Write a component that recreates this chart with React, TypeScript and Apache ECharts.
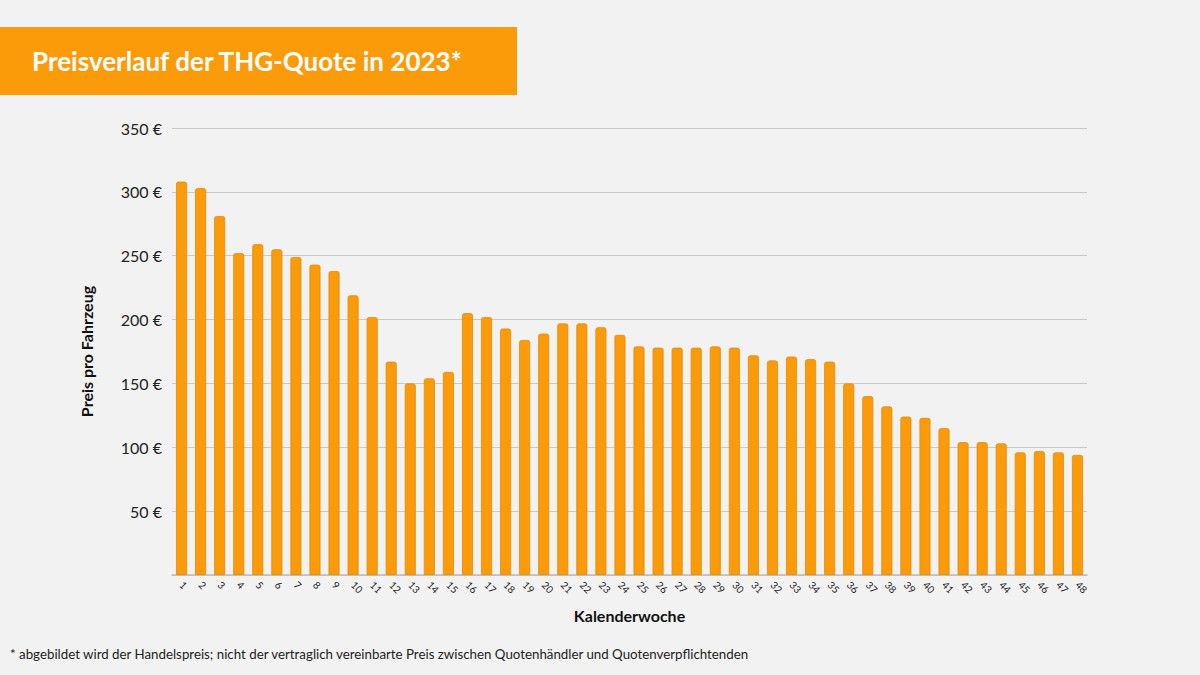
import React, { useEffect, useRef } from "react";
import * as echarts from "echarts";

const weeks: string[] = Array.from({ length: 48 }, (_, i) => String(i + 1));
const prices: number[] = [
  308, 303, 281, 252, 259, 255, 249, 243, 238, 219, 202, 167, 150, 154, 159, 205,
  202, 193, 184, 189, 197, 197, 194, 188, 179, 178, 178, 178, 179, 178, 172, 168,
  171, 169, 167, 150, 140, 132, 124, 123, 115, 104, 104, 103, 96, 97, 96, 94,
];
const titleText = "Preisverlauf der THG-Quote in 2023*";
const yAxisName = "Preis pro Fahrzeug";
const xAxisName = "Kalenderwoche";
const footnote =
  "* abgebildet wird der Handelspreis; nicht der vertraglich vereinbarte Preis zwischen Quotenhändler und Quotenverpflichtenden";

const FONT = "'Lato', 'Open Sans', sans-serif";

export default function App() {
  const ref = useRef<HTMLDivElement>(null);
  useEffect(() => {
    document.body.style.margin = "0";
    if (!ref.current) return;
    const chart = echarts.init(ref.current, undefined, { renderer: "svg" });
    chart.setOption({
      animation: false,
      backgroundColor: "#f3f2f2",
      textStyle: { fontFamily: FONT },
      graphic: [
        {
          type: "rect",
          shape: { x: 0, y: 27, width: 517, height: 68 },
          style: { fill: "#fb9b0a" },
        },
        {
          type: "text",
          x: 32,
          y: 61,
          style: {
            text: titleText,
            fill: "#ffffff",
            font: `bold 26px ${FONT}`,
            verticalAlign: "middle",
          },
        },
        {
          type: "text",
          x: 10,
          y: 654,
          style: {
            text: footnote,
            fill: "#222222",
            font: `13.3px ${FONT}`,
            verticalAlign: "middle",
          },
        },
      ],
      grid: { left: 172, right: 113, top: 128, bottom: 100 },
      xAxis: {
        type: "category",
        data: weeks,
        name: xAxisName,
        nameLocation: "middle",
        nameGap: 32,
        nameTextStyle: { fontSize: 16, fontWeight: "bold", color: "#111", fontFamily: FONT },
        axisLine: { lineStyle: { color: "#bdbdbd", width: 1.5 } },
        axisTick: { show: false },
        axisLabel: {
          rotate: -45,
          fontSize: 10,
          color: "#222",
          margin: 8,
          interval: 0,
          fontFamily: FONT,
        },
      },
      yAxis: {
        type: "value",
        min: 0,
        max: 350,
        interval: 50,
        name: yAxisName,
        nameLocation: "middle",
        nameGap: 78,
        nameRotate: 90,
        nameTextStyle: { fontSize: 16, fontWeight: "bold", color: "#111", fontFamily: FONT },
        axisLine: { show: false },
        axisTick: { show: false },
        axisLabel: {
          fontSize: 16,
          color: "#222",
          margin: 10,
          fontFamily: FONT,
          formatter: (v: number) => (v === 0 ? "" : `${v} €`),
        },
        splitLine: { lineStyle: { color: "#c9c9c9", width: 1 } },
      },
      series: [
        {
          type: "bar",
          data: prices,
          barWidth: 11,
          itemStyle: {
            color: "#fb9b0a",
            borderColor: "#e58a05",
            borderWidth: 0.8,
            borderRadius: [2, 2, 0, 0],
          },
        },
      ],
    });
    return () => chart.dispose();
  }, []);
  return <div ref={ref} style={{ width: 1200, height: 675 }} />;
}
